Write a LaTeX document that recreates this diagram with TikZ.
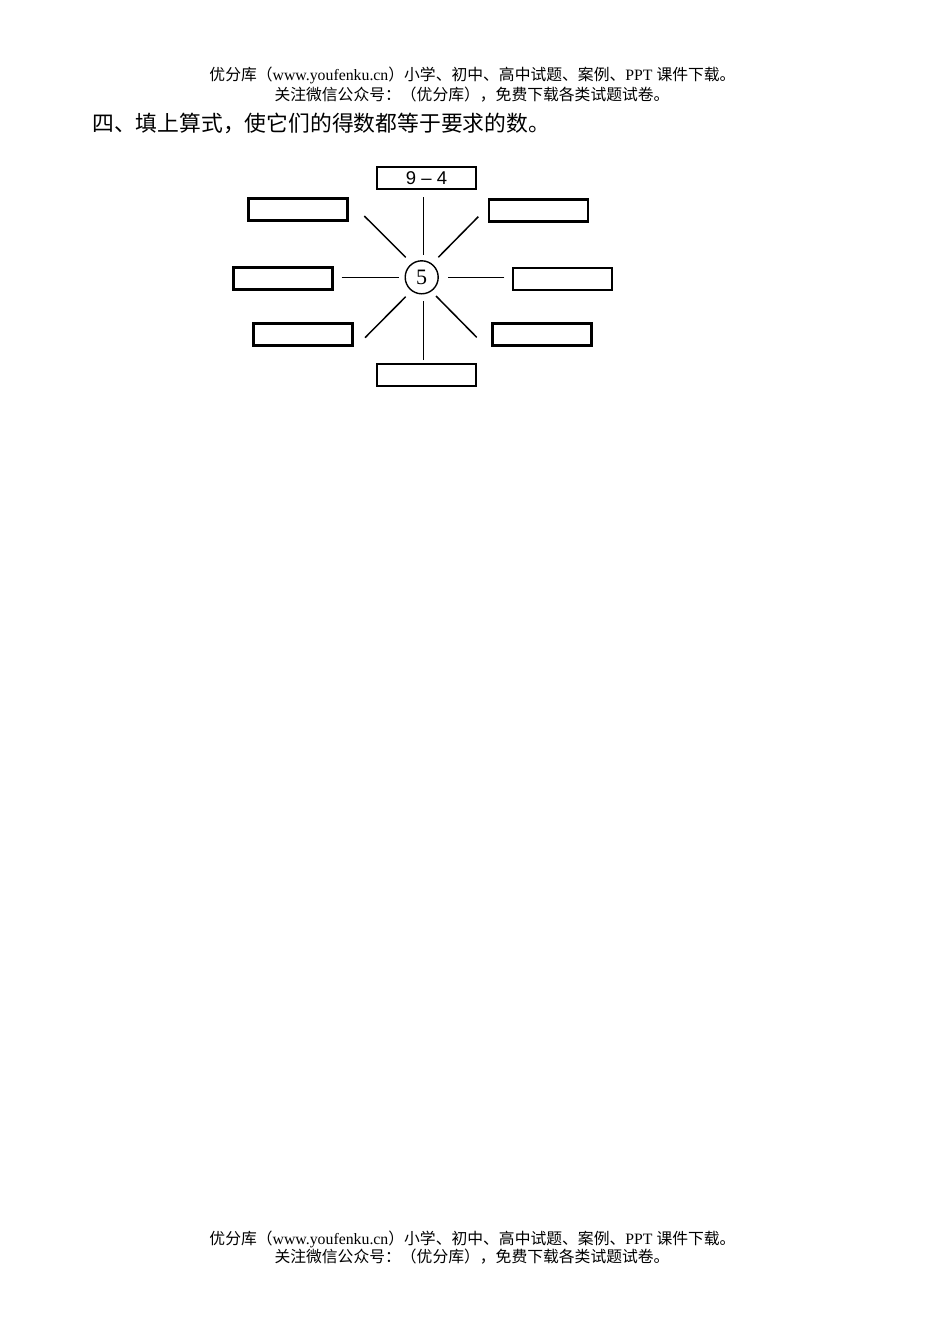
\documentclass[tikz,border=0pt]{standalone}
\usepackage{fontspec}
\setmainfont{Liberation Serif}
\newfontfamily\cjk{Noto Sans CJK SC}
\newfontfamily\lsans{Liberation Sans}
\begin{document}
\begin{tikzpicture}[x=1pt,y=-1pt,
  hdr/.style={inner sep=0pt,font=\fontsize{15.8}{16}\selectfont},
  ttl/.style={inner sep=0pt,anchor=west,font=\cjk\fontsize{21.8}{22}\selectfont},
  ansbox/.style={draw,line width=2.1pt,minimum width=99pt,minimum height=22pt,inner sep=0pt,
    font=\lsans\fontsize{18.5}{19}\selectfont},
  hub/.style={draw,circle,line width=1.4pt,minimum size=33pt,inner sep=0pt,
    font=\fontsize{22}{22}\selectfont},
  spoke/.style={line width=1.5pt}]
\useasboundingbox[fill=white] (0,0) rectangle (950,1344);
% header
\node[hdr] (h1) at (472.5,75) {{\cjk 优分库（}www.youfenku.cn{\cjk ）小学、初中、高中试题、案例、}PPT {\cjk 课件下载。}};
\node[hdr] (h2) at (472,95) {\cjk 关注微信公众号：（优分库），免费下载各类试题试卷。};
% title
\node[ttl] (title) at (92,123) {四、填上算式，使它们的得数都等于要求的数。};
% diagram
\node[hub] (c) at (421.7,277.3) {5};
\node[ansbox] (t) at (426.5,178) {9 – 4};
\node[ansbox] (tl) at (298,209.5) {};
\node[ansbox] (tr) at (538.5,210.5) {};
\node[ansbox] (l) at (283,278.5) {};
\node[ansbox] (r) at (562.5,279) {};
\node[ansbox] (bl) at (303,334.5) {};
\node[ansbox] (br) at (542,334.5) {};
\node[ansbox] (b) at (426.5,375) {};
% spoke end points
\coordinate (s1a) at (423.3,197);   \coordinate (s1b) at (423.3,255);
\coordinate (s2a) at (364.3,216);   \coordinate (s2b) at (405.7,257.3);
\coordinate (s3a) at (478.3,216.7); \coordinate (s3b) at (438.3,257.3);
\coordinate (s4a) at (341.7,277.3); \coordinate (s4b) at (399.3,277.3);
\coordinate (s5a) at (504.3,277.3); \coordinate (s5b) at (447.7,277.3);
\coordinate (s6a) at (365,337.7);   \coordinate (s6b) at (405.7,296.7);
\coordinate (s7a) at (476.7,337.3); \coordinate (s7b) at (436,296);
\coordinate (s8a) at (423.3,360);   \coordinate (s8b) at (423.3,300.7);
\foreach \i in {1,...,8} \draw[spoke] (s\i a) -- (s\i b);
% footer
\node[hdr] (f1) at (472.5,1239) {{\cjk 优分库（}www.youfenku.cn{\cjk ）小学、初中、高中试题、案例、}PPT {\cjk 课件下载。}};
\node[hdr] (f2) at (472,1257) {\cjk 关注微信公众号：（优分库），免费下载各类试题试卷。};
\end{tikzpicture}
\end{document}
